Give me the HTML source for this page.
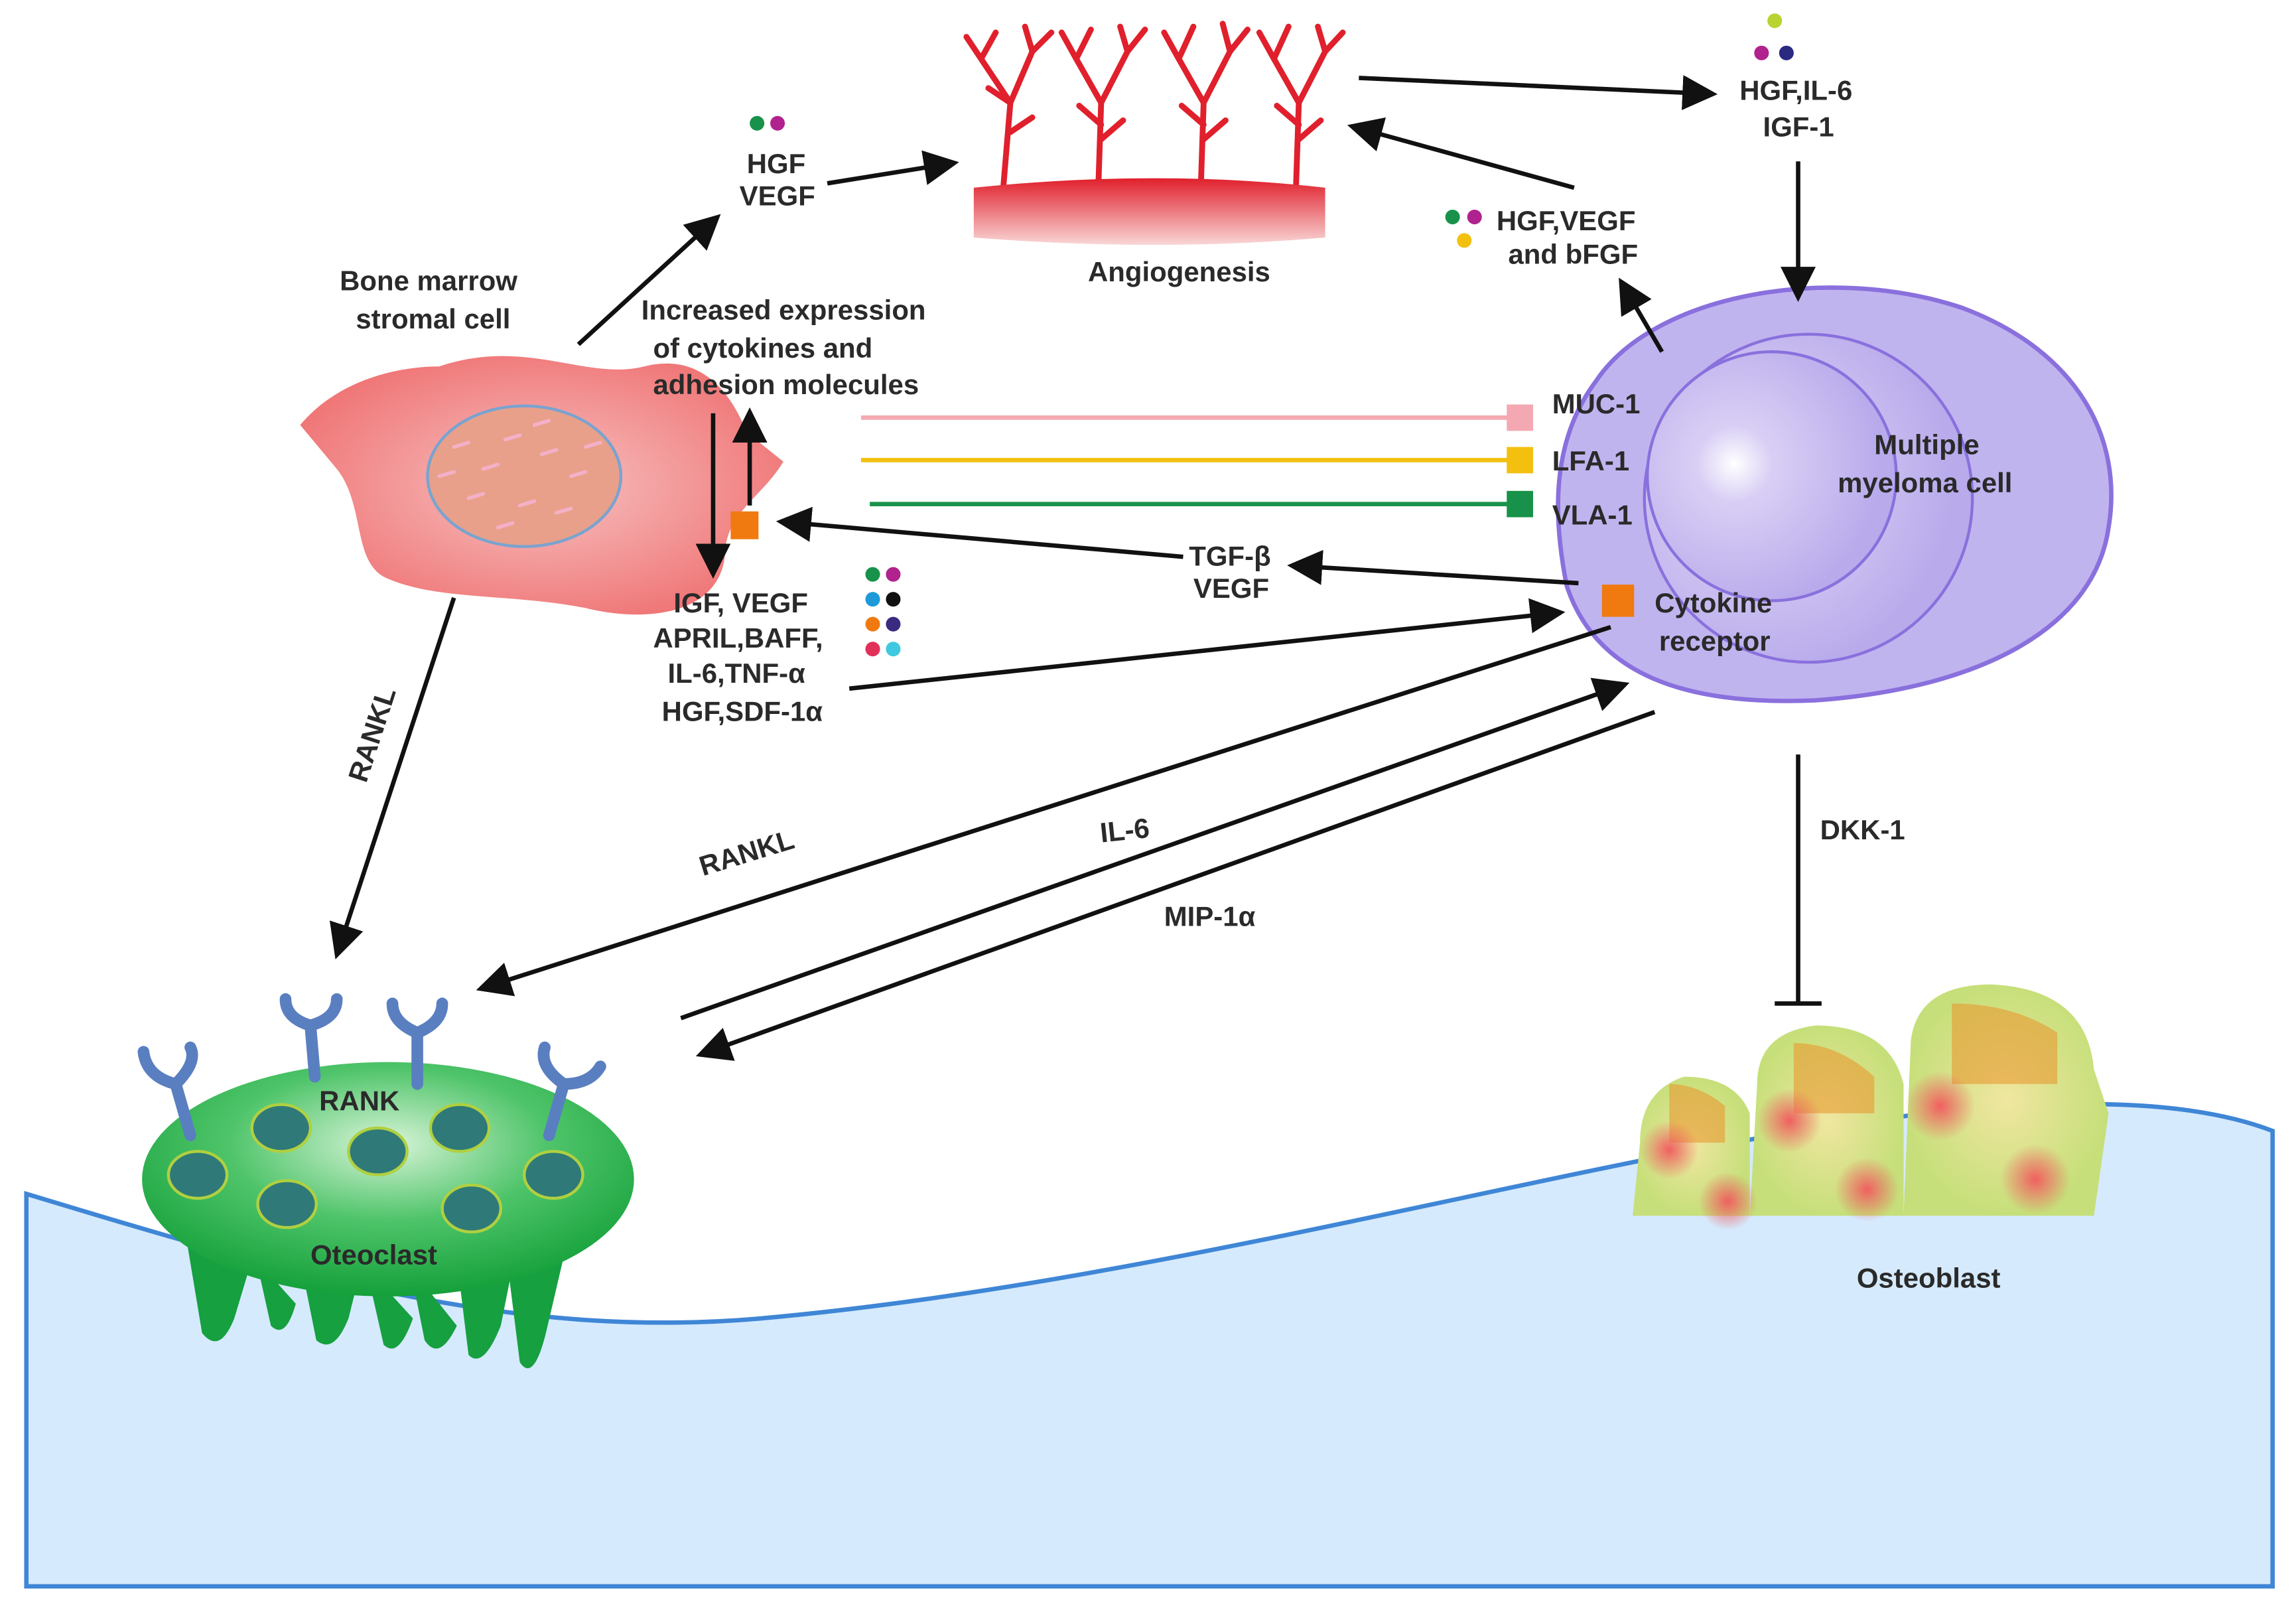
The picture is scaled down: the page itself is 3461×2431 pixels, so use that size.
<!DOCTYPE html>
<html><head><meta charset="utf-8"><style>
html,body{margin:0;padding:0;background:#fff;}
svg{display:block;}
text{font-family:"Liberation Sans",sans-serif;font-weight:bold;font-size:19px;fill:#2a2a2a;}
</style></head><body>
<svg width="3461" height="2431" viewBox="0 0 1568 1101" xmlns="http://www.w3.org/2000/svg">
<defs>
<marker id="ah" markerWidth="8" markerHeight="8" refX="7" refY="4" orient="auto" markerUnits="strokeWidth"><path d="M0,0 L8,4 L0,8 Z" fill="#111"/></marker>
<radialGradient id="pinkc" cx="50%" cy="50%" r="60%"><stop offset="0" stop-color="#f7c2c2"/><stop offset="1" stop-color="#ef6f70"/></radialGradient>
<radialGradient id="purp" cx="35%" cy="45%" r="60%"><stop offset="0" stop-color="#fff"/><stop offset="0.25" stop-color="#d9cff5"/><stop offset="1" stop-color="#b8aaeb"/></radialGradient>
<radialGradient id="grn" cx="50%" cy="35%" r="65%"><stop offset="0" stop-color="#d8f4d8"/><stop offset="0.5" stop-color="#4fc46a"/><stop offset="1" stop-color="#14a03a"/></radialGradient>
<linearGradient id="base" x1="0" y1="0" x2="0" y2="1"><stop offset="0" stop-color="#e0202c"/><stop offset="1" stop-color="#f9d6d6"/></linearGradient>
<radialGradient id="ob" cx="50%" cy="50%" r="50%"><stop offset="0" stop-color="#f0e6a0"/><stop offset="1" stop-color="#c6df7a"/></radialGradient>
<radialGradient id="rs" cx="50%" cy="50%" r="50%"><stop offset="0" stop-color="#f06060"/><stop offset="1" stop-color="#f06060" stop-opacity="0"/></radialGradient>
</defs>
<path d="M18,815 C200,870 350,915 520,900 C800,875 1100,785 1300,762 C1420,748 1500,752 1552,772 L1552,1083 L18,1083 Z" fill="#d5eafc" stroke="#3f86d6" stroke-width="3"/>
<g stroke="#e0202c" stroke-width="4" fill="none" stroke-linecap="round">
<path d="M685,130 L690,70 L670,40 M690,70 L705,35 M670,40 L660,25 M670,40 L680,22 M705,35 L700,18 M705,35 L718,22 M690,70 L675,60 M690,90 L705,80"/>
<path d="M750,130 L752,70 L735,40 M752,70 L770,35 M735,40 L725,22 M735,40 L745,20 M770,35 L765,18 M770,35 L782,20 M752,85 L737,72 M752,95 L767,82"/>
<path d="M820,130 L822,70 L805,40 M822,70 L840,35 M805,40 L795,22 M805,40 L815,18 M840,35 L835,16 M840,35 L852,20 M822,85 L807,72 M822,95 L837,82"/>
<path d="M885,130 L887,70 L870,40 M887,70 L905,35 M870,40 L860,22 M870,40 L880,18 M905,35 L900,18 M905,35 L917,22 M887,85 L872,72 M887,95 L902,82"/>
</g>
<path d="M665,128 Q790,115 905,128 L905,162 Q790,172 665,162 Z" fill="url(#base)"/>
<text x="743" y="192">Angiogenesis</text>
<path d="M205,290 C230,260 270,250 300,250 C360,230 400,260 440,250 C480,240 500,270 510,295 L535,315 C520,340 495,350 495,380 C490,420 440,425 400,415 C350,405 300,410 265,395 C240,385 250,345 230,320 Z" fill="url(#pinkc)"/>
<ellipse cx="358" cy="325" rx="66" ry="48" fill="#e8a08a" stroke="#7aa3d0" stroke-width="2"/>
<g stroke="#f4b0c8" stroke-width="2.5" stroke-linecap="round">
<path d="M310,305 l10,-3 M330,320 l10,-3 M345,300 l10,-3 M370,310 l10,-3 M390,325 l10,-3 M320,340 l10,-3 M355,345 l10,-3 M380,350 l10,-3 M300,325 l10,-3 M365,290 l10,-3 M400,305 l10,-3 M340,360 l10,-3"/>
</g>
<text x="232" y="198">Bone marrow</text><text x="243" y="224">stromal cell</text>
<path d="M1090,260 C1130,200 1250,180 1340,210 C1420,240 1450,300 1440,360 C1430,430 1350,470 1240,478 C1150,482 1090,460 1070,400 C1060,350 1060,300 1090,260 Z" fill="#c0b4ef" stroke="#8a70dd" stroke-width="3"/>
<circle cx="1235" cy="340" r="112" fill="url(#purp)" stroke="#8a70dd" stroke-width="2"/>
<circle cx="1210" cy="325" r="85" fill="url(#purp)" stroke="#8a70dd" stroke-width="2"/>
<text x="1280" y="310">Multiple</text><text x="1255" y="336">myeloma cell</text>
<rect x="1094" y="399" width="22" height="22" fill="#f07a10"/>
<text x="1130" y="418">Cytokine</text><text x="1133" y="444">receptor</text>
<line x1="588" y1="285" x2="1030" y2="285" stroke="#f4a9b2" stroke-width="3"/><rect x="1029" y="276" width="18" height="18" fill="#f4a9b2"/><text x="1060" y="282">MUC-1</text>
<line x1="588" y1="314" x2="1030" y2="314" stroke="#f3c010" stroke-width="3"/><rect x="1029" y="305" width="18" height="18" fill="#f3c010"/><text x="1060" y="321">LFA-1</text>
<line x1="594" y1="344" x2="1030" y2="344" stroke="#18924a" stroke-width="3"/><rect x="1029" y="335" width="18" height="18" fill="#18924a"/><text x="1060" y="358">VLA-1</text>
<text x="438" y="218">Increased expression</text><text x="446" y="244">of cytokines and</text><text x="446" y="269">adhesion molecules</text>
<text x="510" y="118">HGF</text><text x="505" y="140">VEGF</text>
<text x="1188" y="68">HGF,IL-6</text><text x="1204" y="93">IGF-1</text>
<text x="1022" y="157">HGF,VEGF</text><text x="1030" y="180">and bFGF</text>
<text x="812" y="386">TGF-β</text><text x="815" y="408">VEGF</text>
<text x="460" y="418">IGF,  VEGF</text><text x="446" y="442">APRIL,BAFF,</text><text x="456" y="466">IL-6,TNF-α</text><text x="452" y="492">HGF,SDF-1α</text>
<text x="1243" y="573">DKK-1</text>
<text x="1268" y="879">Osteoblast</text>
<text transform="translate(250,535) rotate(-72)">RANKL</text>
<text transform="translate(480,598) rotate(-17)">RANKL</text>
<text transform="translate(752,575) rotate(-6)">IL-6</text>
<text x="795" y="632">MIP-1α</text>
<g>
<circle cx="517" cy="84" r="5" fill="#18924a"/><circle cx="531" cy="84" r="5" fill="#b0228e"/>
<circle cx="1212" cy="14" r="5" fill="#b8d430"/><circle cx="1203" cy="36" r="5" fill="#b0228e"/><circle cx="1220" cy="36" r="5" fill="#2a2a80"/>
<circle cx="992" cy="148" r="5" fill="#18924a"/><circle cx="1007" cy="148" r="5" fill="#b0228e"/><circle cx="1000" cy="164" r="5" fill="#f3c010"/>
<circle cx="596" cy="392" r="5" fill="#18924a"/><circle cx="610" cy="392" r="5" fill="#b0228e"/>
<circle cx="596" cy="409" r="5" fill="#1e9ad8"/><circle cx="610" cy="409" r="5" fill="#111"/>
<circle cx="596" cy="426" r="5" fill="#f07a10"/><circle cx="610" cy="426" r="5" fill="#3a2a80"/>
<circle cx="596" cy="443" r="5" fill="#e0305a"/><circle cx="610" cy="443" r="5" fill="#40c8e0"/>
</g>
<rect x="499" y="349" width="19" height="19" fill="#f07a10"/>
<g stroke="#111" stroke-width="3" fill="none" marker-end="url(#ah)">
<line x1="395" y1="235" x2="490" y2="148"/>
<line x1="565" y1="125" x2="652" y2="111"/>
<line x1="928" y1="53" x2="1170" y2="64"/>
<line x1="1228" y1="110" x2="1228" y2="203"/>
<line x1="1075" y1="128" x2="923" y2="86"/>
<line x1="1135" y1="240" x2="1107" y2="192"/>
<line x1="1078" y1="398" x2="882" y2="386"/>
<line x1="808" y1="380" x2="533" y2="356"/>
<line x1="487" y1="282" x2="487" y2="392"/>
<line x1="512" y1="345" x2="512" y2="281"/>
<line x1="580" y1="470" x2="1066" y2="418"/>
<line x1="310" y1="408" x2="230" y2="652"/>
<line x1="1100" y1="428" x2="328" y2="675"/>
<line x1="465" y1="695" x2="1110" y2="467"/>
<line x1="1130" y1="486" x2="478" y2="720"/>
</g>
<line x1="1228" y1="515" x2="1228" y2="685" stroke="#111" stroke-width="3"/>
<line x1="1212" y1="685" x2="1244" y2="685" stroke="#111" stroke-width="3"/>
<g fill="#16a040">
<path d="M128,850 L138,910 Q150,925 160,900 L172,860 Z"/><path d="M175,860 L185,905 Q195,915 202,890 Z"/>
<path d="M205,860 L216,915 Q228,925 238,900 L248,860 Z"/><path d="M250,865 L262,918 Q272,928 282,900 Z"/>
<path d="M280,865 L290,915 Q300,930 312,905 Z"/><path d="M312,860 L320,925 Q330,935 342,905 L352,855 Z"/><path d="M345,850 L355,930 Q365,945 374,905 L388,845 Z"/>
</g>
<ellipse cx="265" cy="805" rx="168" ry="80" fill="url(#grn)"/>
<g stroke="#5a7fc0" stroke-width="8" fill="none" stroke-linecap="round">
<path d="M130,775 L120,740 M120,740 Q100,735 98,718 M120,740 Q135,725 130,715"/>
<path d="M215,735 L212,700 M212,700 Q195,695 195,682 M212,700 Q230,695 230,682"/>
<path d="M285,740 L285,705 M285,705 Q268,698 268,685 M285,705 Q302,698 302,685"/>
<path d="M375,775 L385,740 M385,740 Q368,728 372,715 M385,740 Q403,740 410,728"/>
</g>
<g fill="#2f7a78" stroke="#b0d040" stroke-width="2">
<ellipse cx="135" cy="802" rx="20" ry="16"/><ellipse cx="192" cy="770" rx="20" ry="16"/><ellipse cx="196" cy="822" rx="20" ry="16"/>
<ellipse cx="258" cy="786" rx="20" ry="16"/><ellipse cx="314" cy="770" rx="20" ry="16"/><ellipse cx="322" cy="825" rx="20" ry="16"/><ellipse cx="378" cy="802" rx="20" ry="16"/>
</g>
<text x="218" y="758">RANK</text>
<text x="212" y="863">Oteoclast</text>
<g>
<path d="M1115,830 L1120,780 Q1120,745 1150,735 Q1185,735 1195,760 L1195,830 Z" fill="url(#ob)"/>
<path d="M1195,830 L1200,740 Q1200,705 1240,700 Q1290,700 1300,740 L1300,830 Z" fill="url(#ob)"/>
<path d="M1300,830 L1305,710 Q1310,672 1360,672 Q1425,675 1430,730 L1440,760 L1430,830 Z" fill="url(#ob)"/>
<path d="M1140,740 Q1160,740 1178,755 L1178,780 L1140,780 Z" fill="#e89a30" opacity="0.6"/>
<path d="M1225,712 Q1255,712 1280,735 L1280,760 L1225,760 Z" fill="#e89a30" opacity="0.6"/>
<path d="M1333,685 Q1375,685 1405,705 L1405,740 L1333,740 Z" fill="#e89a30" opacity="0.6"/>
<circle cx="1140" cy="785" r="20" fill="url(#rs)"/><circle cx="1180" cy="820" r="20" fill="url(#rs)"/>
<circle cx="1222" cy="765" r="22" fill="url(#rs)"/><circle cx="1275" cy="812" r="22" fill="url(#rs)"/>
<circle cx="1325" cy="755" r="24" fill="url(#rs)"/><circle cx="1390" cy="805" r="24" fill="url(#rs)"/>
</g>
</svg>
</body></html>
